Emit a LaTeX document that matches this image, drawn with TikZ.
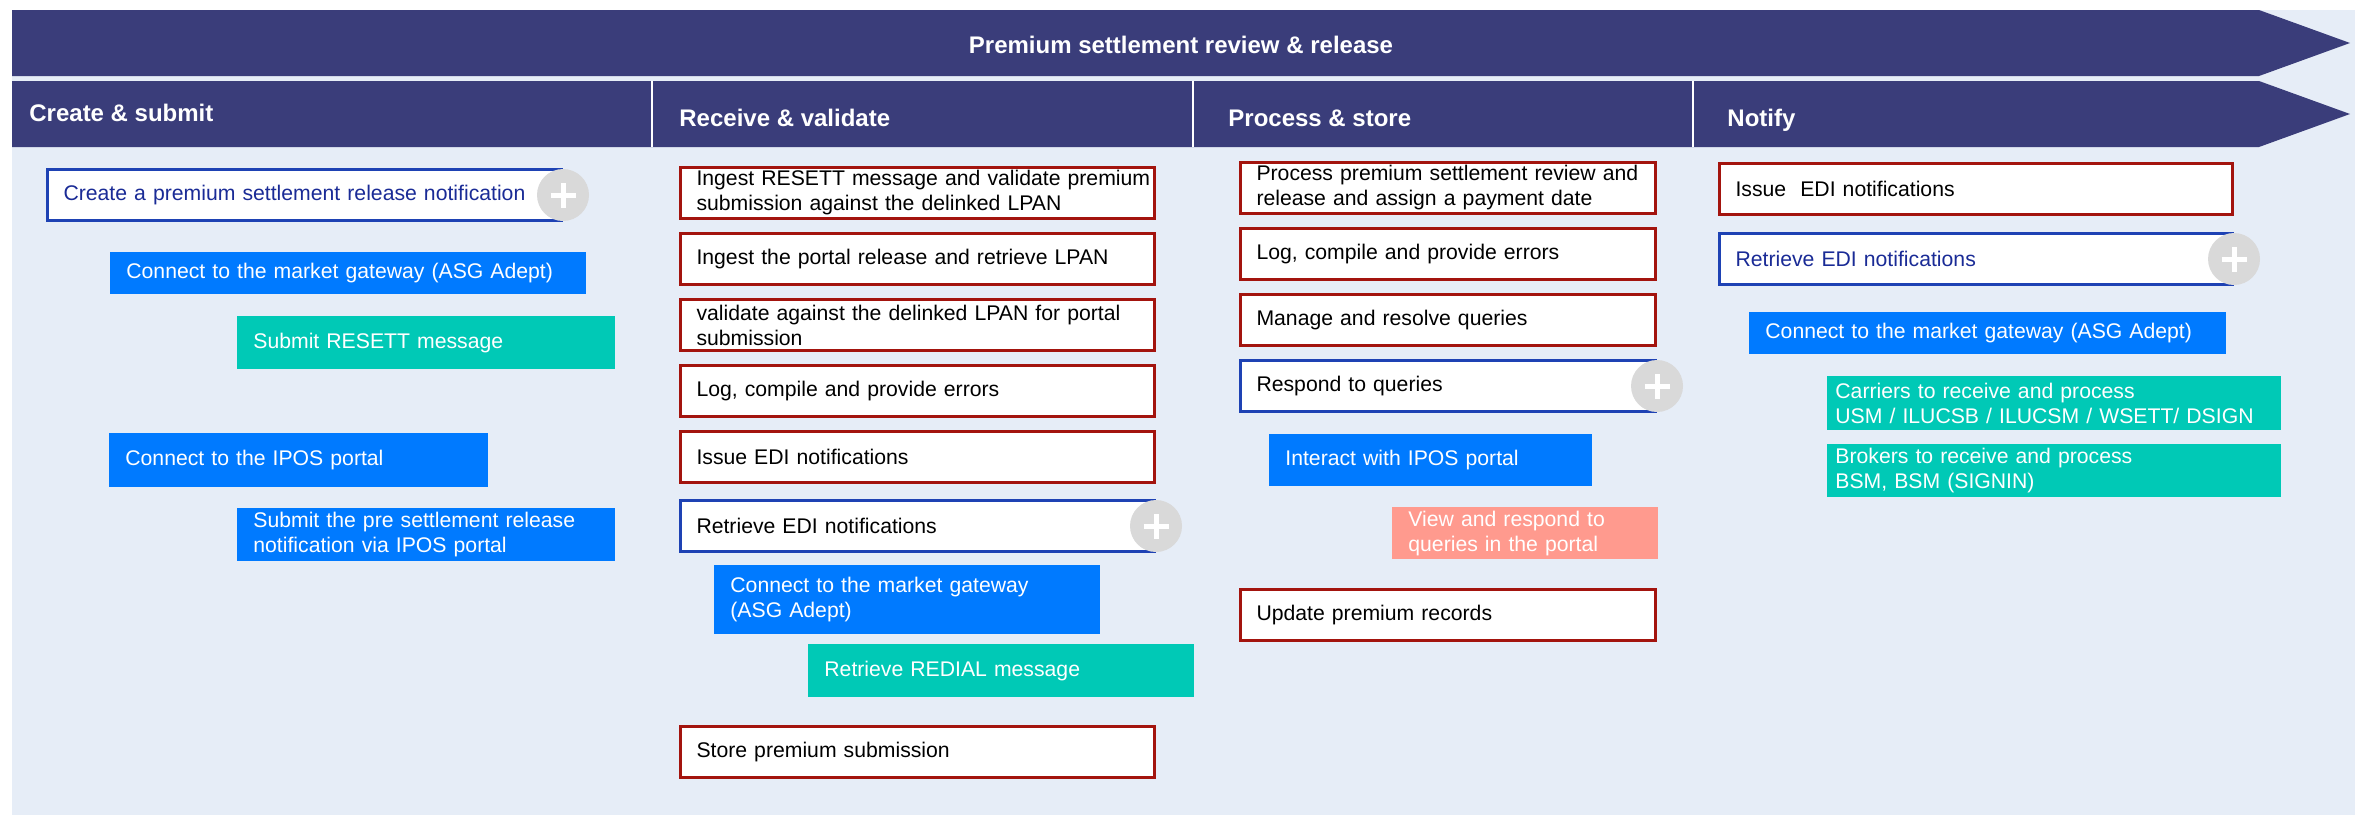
\documentclass[tikz,border=0pt]{standalone}
\usepackage{fontspec}
\setmainfont{Liberation Sans}
\usetikzlibrary{positioning}
\definecolor{bandnavy}{HTML}{3A3D7A}
\definecolor{lanebg}{HTML}{E6EDF7}
\definecolor{taskred}{HTML}{A3140E}
\definecolor{subblue}{HTML}{1E42B4}
\definecolor{subtext}{HTML}{1A2B96}
\definecolor{linkblue}{HTML}{007AFF}
\definecolor{msgteal}{HTML}{00C9B6}
\definecolor{querysalmon}{HTML}{FF9A8E}
\definecolor{plusgray}{HTML}{D9D9D9}
\newcommand{\boxfont}{\fontsize{10.6pt}{12.5pt}\selectfont}

\begin{document}
\begin{tikzpicture}[
  x=0.5pt,y=-0.5pt,
  node distance=6pt,
  hdr/.style={font=\fontsize{12pt}{14pt}\selectfont\bfseries,text=white,inner sep=0pt},
  task/.style={draw=taskred,line width=1.5pt,fill=white,inner xsep=8pt,inner ysep=0pt,minimum height=25.5pt,align=left,font=\boxfont},
  sub/.style={task,draw=subblue},
  link/.style={fill=linkblue,text=white,inner xsep=8pt,inner ysep=0pt,align=left,font=\boxfont},
  msg/.style={link,fill=msgteal},
  query/.style={link,fill=querysalmon},
  more/.style={circle,fill=plusgray,minimum size=26pt,inner sep=0pt,
    path picture={\draw[white,line width=2.5pt]
      ([xshift=-6.25pt]path picture bounding box.center) -- ([xshift=6.25pt]path picture bounding box.center)
      ([yshift=-6.25pt]path picture bounding box.center) -- ([yshift=6.25pt]path picture bounding box.center);}}
]
  \useasboundingbox (0,0) rectangle (2369,815);
  \fill[lanebg] (12,10) rectangle (2355,815);
  \fill[bandnavy] (12,10) -- (2259,10) -- (2350,43) -- (2259,76) -- (12,76) -- cycle;
  \fill[bandnavy] (12,81) -- (2259,81) -- (2350,114) -- (2259,147) -- (12,147) -- cycle;
  \foreach \sx in {652,1193,1693} \draw[white,line width=1pt] (\sx,81) -- (\sx,147);

  \node[hdr,anchor=base] (title) at (1181,53) {Premium settlement review \& release};
  \node[hdr,anchor=base west] (create-h) at (29,121) {Create \& submit};
  \node[hdr,anchor=base west] (receive-h) at (679,126) {Receive \& validate};
  \node[hdr,anchor=base west] (process-h) at (1228,126) {Process \& store};
  \node[hdr,anchor=base west] (notify-h) at (1727,126) {Notify};

  \node[sub,text=subtext,text width=241pt,anchor=north west] (create) at (46,168) {Create a premium settlement release notification};
  \node[link,minimum height=21pt,text width=222pt,below=15pt of create.south west,anchor=north west,xshift=32pt] (gw1) {Connect to the market gateway (ASG Adept)};
  \node[msg,minimum height=26.5pt,text width=173pt,below=10.5pt of gw1.south west,anchor=north west,xshift=63.5pt] (resett) {Submit RESETT message};
  \node[link,minimum height=27pt,text width=173.5pt,below=31.5pt of resett.south west,anchor=north west,xshift=-64pt] (ipos1) {Connect to the IPOS portal};
  \node[link,minimum height=26.5pt,text width=173pt,below=10pt of ipos1.south west,anchor=north west,xshift=64pt] (presub) {Submit the pre settlement release\\notification via IPOS portal};
  \node[more] (create-more) at (create.east) {};

  \node[task,text width=221pt,anchor=north west] (ingest) at (679,166) {\mbox{Ingest RESETT message and validate premium}\\submission against the delinked LPAN};
  \node[task,text width=221pt,below=of ingest] (portal) {Ingest the portal release and retrieve LPAN};
  \node[task,text width=221pt,below=of portal] (valid) {\mbox{validate against the delinked LPAN for portal}\\submission};
  \node[task,text width=221pt,below=of valid] (errors1) {Log, compile and provide errors};
  \node[task,text width=221pt,below=of errors1] (issue1) {Issue EDI notifications};
  \node[sub,text width=221pt,below=7.5pt of issue1] (retr1) {Retrieve EDI notifications};
  \node[link,minimum height=34.5pt,text width=177pt,below=6pt of retr1.south west,anchor=north west,xshift=17.5pt] (gw2) {Connect to the market gateway\\(ASG Adept)};
  \node[msg,minimum height=26.5pt,text width=177pt,below=4.5pt of gw2.south west,anchor=north west,xshift=47pt] (redial) {Retrieve REDIAL message};
  \node[task,text width=221pt,below=13.5pt of redial.south west,anchor=north west,xshift=-64.5pt] (store) {Store premium submission};
  \node[more] (retr1-more) at (retr1.east) {};

  \node[task,text width=191.5pt,anchor=north west] (review) at (1239,161) {\mbox{Process premium settlement review and}\\release and assign a payment date};
  \node[task,text width=191.5pt,below=of review] (errors2) {Log, compile and provide errors};
  \node[task,text width=191.5pt,below=of errors2] (manage) {Manage and resolve queries};
  \node[sub,text width=191.5pt,below=of manage] (respond) {Respond to queries};
  \node[link,minimum height=26pt,text width=145.5pt,below=10.5pt of respond.south west,anchor=north west,xshift=15pt] (ipos2) {Interact with IPOS portal};
  \node[query,minimum height=26pt,text width=117pt,below=10pt of ipos2.south west,anchor=north west,xshift=61.5pt] (view) {View and respond to\\queries in the portal};
  \node[task,text width=191.5pt,below=14pt of view.south west,anchor=north west,xshift=-76.5pt] (update) {Update premium records};
  \node[more] (respond-more) at (respond.east) {};

  \node[task,text width=240.5pt,anchor=north west] (issue2) at (1718,162) {Issue~~EDI notifications};
  \node[sub,text=subtext,text width=240.5pt,below=8pt of issue2] (retr2) {Retrieve EDI notifications};
  \node[link,minimum height=21pt,text width=222.5pt,below=13pt of retr2.south west,anchor=north west,xshift=15.5pt] (gw4) {Connect to the market gateway (ASG Adept)};
  \node[msg,inner xsep=4pt,minimum height=27pt,text width=219pt,below=10.5pt of gw4.south west,anchor=north west,xshift=39pt] (carriers) {Carriers to receive and process\\USM / ILUCSB / ILUCSM / WSETT/ DSIGN};
  \node[msg,inner xsep=4pt,minimum height=26.5pt,text width=219pt,below=6.5pt of carriers] (brokers) {Brokers to receive and process\\BSM, BSM (SIGNIN)};
  \node[more] (retr2-more) at (retr2.east) {};
\end{tikzpicture}
\end{document}
